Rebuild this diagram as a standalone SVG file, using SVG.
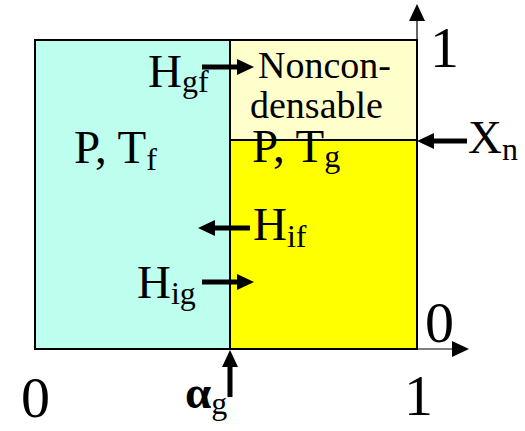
<svg xmlns="http://www.w3.org/2000/svg" width="525" height="431" viewBox="0 0 525 431">
<defs>
<polygon id="headR" points="0,0 -17,-8 -17,8" fill="#000"/>
</defs>
<rect width="525" height="431" fill="#fff"/>
<g id="liquid">
<rect x="35" y="40" width="195" height="309" fill="#BEFEEE" stroke="#000" stroke-width="2"/>
<text style="font-family:'Liberation Serif',serif;font-size:47px" x="74" y="163">P, T<tspan style="font-size:32px" dy="7">f</tspan></text>
</g>
<g id="noncondensable">
<rect x="230" y="40" width="187" height="100" fill="#FFFFCC" stroke="#000" stroke-width="2"/>
<text style="font-family:'Liberation Serif',serif;font-size:38px" x="258" y="78">Noncon-</text>
<text style="font-family:'Liberation Serif',serif;font-size:38px" x="250" y="118">densable</text>
</g>
<g id="gas">
<rect x="230" y="140" width="187" height="209" fill="#FFFF00" stroke="#000" stroke-width="2"/>
<text style="font-family:'Liberation Serif',serif;font-size:47px" x="252" y="162">P, T<tspan style="font-size:32px" dy="5">g</tspan></text>
</g>
<g id="axes">
<path d="M417 349 H456 M417 40 V17" stroke="#000" stroke-width="1.2" fill="none"/>
<use href="#headR" transform="translate(469,349)"/>
<use href="#headR" transform="translate(417,4) rotate(-90)"/>
<text style="font-family:'Liberation Serif',serif;font-size:58px" x="430" y="67">1</text>
<text style="font-family:'Liberation Serif',serif;font-size:58px" x="425" y="342">0</text>
<text style="font-family:'Liberation Serif',serif;font-size:58px" x="404" y="415">1</text>
<text style="font-family:'Liberation Serif',serif;font-size:58px" x="21" y="417">0</text>
</g>
<g id="labels">
<text style="font-family:'Liberation Serif',serif;font-size:47px" x="148" y="87">H<tspan style="font-size:32px" dy="5">gf</tspan></text>
<text style="font-family:'Liberation Serif',serif;font-size:47px" x="253" y="240">H<tspan style="font-size:32px" dy="7">if</tspan></text>
<text style="font-family:'Liberation Serif',serif;font-size:47px" x="137" y="298">H<tspan style="font-size:32px" dy="6">ig</tspan></text>
<text style="font-family:'Liberation Serif',serif;font-size:47px" x="468" y="153">X<tspan style="font-size:32px" dy="7">n</tspan></text>
<text style="font-family:'Liberation Serif',serif;font-size:47px;font-weight:bold" x="185" y="408">&#945;<tspan style="font-size:32px;font-weight:normal" dy="6">g</tspan></text>
</g>
<g id="connectors" stroke="#000" stroke-width="5" fill="none">
<path d="M202 67 H238 M250 228 H214 M202 282 H238 M467 141 H432 M230 397 V366"/>
<g stroke="none">
<use href="#headR" transform="translate(254,67)"/>
<use href="#headR" transform="translate(198,228) rotate(180)"/>
<use href="#headR" transform="translate(254,282)"/>
<use href="#headR" transform="translate(417,141) rotate(180)"/>
<use href="#headR" transform="translate(230,350) rotate(-90)"/>
</g>
</g>
</svg>
